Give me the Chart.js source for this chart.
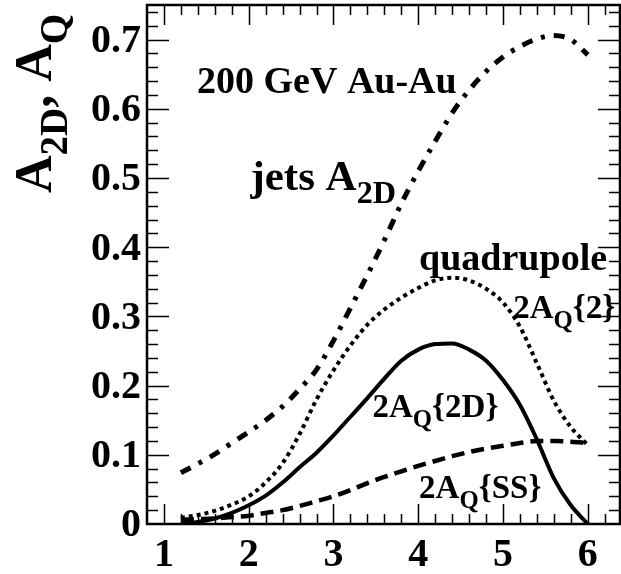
<!DOCTYPE html>
<html>
<head>
<meta charset="utf-8">
<script src="https://cdn.jsdelivr.net/npm/chart.js@4.4.1/dist/chart.umd.min.js"></script>
<style>
html,body{margin:0;padding:0;background:#fff}
#wrap{width:621px;height:574px}
</style>
</head>
<body>
<div id="wrap"><canvas id="chart" width="621" height="574"></canvas></div>
<script>
// x = 1.2 .. 6.0
const xVals=[1.2,1.4,1.6,1.8,2.0,2.2,2.4,2.6,2.8,3.0,3.2,3.4,3.6,3.8,4.0,4.2,4.4,4.6,4.8,5.0,5.2,5.4,5.6,5.8,6.0];
const jetsA2D=[0.074,0.087,0.101,0.117,0.133,0.150,0.170,0.195,0.223,0.265,0.312,0.360,0.410,0.463,0.510,0.553,0.594,0.627,0.654,0.675,0.690,0.701,0.706,0.700,0.678];
const aq2=[0.009,0.013,0.019,0.028,0.040,0.060,0.088,0.130,0.180,0.222,0.258,0.288,0.310,0.327,0.341,0.352,0.356,0.352,0.340,0.320,0.285,0.232,0.178,0.140,0.114];
const aq2D=[0.000,0.003,0.008,0.016,0.027,0.041,0.060,0.082,0.103,0.128,0.155,0.182,0.210,0.236,0.252,0.260,0.261,0.252,0.236,0.208,0.172,0.122,0.066,0.027,0.000];
const aqSS=[0.006,0.007,0.008,0.010,0.012,0.016,0.020,0.026,0.033,0.040,0.049,0.059,0.068,0.076,0.084,0.091,0.098,0.104,0.109,0.113,0.117,0.120,0.120,0.119,0.117];

const xTicks=[1,2,3,4,5,6];
const yTicks=[0,0.1,0.2,0.3,0.4,0.5,0.6,0.7];
const yTickLabels=["0","0.1","0.2","0.3","0.4","0.5","0.6","0.7"];

// text parts: [text, subscript?]
const notes=[
 {x:1.39,y:0.623,size:38,parts:[["200 GeV Au-Au",0]]},
 {x:2.02,y:0.483,size:43,parts:[["jets A",0],["2D",1]]},
 {x:4.01,y:0.367,size:38,parts:[["quadrupole",0]]},
 {x:5.12,y:0.298,size:33,parts:[["2A",0],["Q",1],["{2}",0]]},
 {x:3.46,y:0.155,size:33,parts:[["2A",0],["Q",1],["{2D}",0]]},
 {x:4.01,y:0.038,size:33,parts:[["2A",0],["Q",1],["{SS}",0]]}
];
const yTitle=[["A",0],["2D",1],[", A",0],["Q",1]];

const FONT='"Liberation Serif","Times New Roman",serif';

function rich(ctx,parts,x,y,size){
 let cx=x;
 for(const [t,sub] of parts){
  const s=sub?size*0.75:size;
  ctx.font=`bold ${s}px ${FONT}`;
  ctx.fillText(t,cx,sub?y+size*0.3:y);
  cx+=ctx.measureText(t).width;
 }
}

const frame={
 id:"frame",
 afterDraw(chart){
  const ctx=chart.ctx,a=chart.chartArea,x=chart.scales.x,y=chart.scales.y;
  ctx.save();
  ctx.strokeStyle="#000";ctx.fillStyle="#000";
  // ticks, all four sides, pointing inward
  ctx.lineWidth=1.5;
  ctx.beginPath();
  for(let i=0;i<=30;i++){
   const v=0.8+i*0.2;
   if(v<=x.min+1e-6||v>=x.max) continue;
   const p=Math.round(x.getPixelForValue(v))+0.5;
   const len=Math.abs(v-Math.round(v))<1e-6?20:10;
   ctx.moveTo(p,a.bottom);ctx.lineTo(p,a.bottom-len);
   ctx.moveTo(p,a.top);ctx.lineTo(p,a.top+len);
  }
  for(let i=1;i<=37;i++){
   const v=i*0.02;
   if(v>=y.max) continue;
   const p=Math.round(y.getPixelForValue(v))+0.5;
   const len=i%5==0?22:11;
   ctx.moveTo(a.left,p);ctx.lineTo(a.left+len,p);
   ctx.moveTo(a.right,p);ctx.lineTo(a.right-len,p);
  }
  ctx.stroke();
  ctx.lineWidth=2.5;
  ctx.strokeRect(a.left,a.top,a.right-a.left,a.bottom-a.top);

  // tick labels
  ctx.font=`bold 40px ${FONT}`;
  ctx.textAlign="center";ctx.textBaseline="alphabetic";
  xTicks.forEach(v=>ctx.fillText(String(v),x.getPixelForValue(v),566));
  ctx.textAlign="right";ctx.textBaseline="middle";
  yTicks.forEach((v,i)=>ctx.fillText(yTickLabels[i],141,y.getPixelForValue(v)+2));

  // annotations
  ctx.textAlign="left";ctx.textBaseline="alphabetic";
  notes.forEach(n=>rich(ctx,n.parts,x.getPixelForValue(n.x),y.getPixelForValue(n.y),n.size));

  // y axis title
  ctx.translate(51,193);
  ctx.rotate(-Math.PI/2);
  rich(ctx,yTitle,0,0,52);
  ctx.restore();
 }
};

const pts=arr=>arr.map((v,i)=>({x:xVals[i],y:v}));
const line=(data,dash,w)=>({data:pts(data),borderColor:"#000",borderWidth:w,borderDash:dash,
 pointRadius:0,fill:false,cubicInterpolationMode:"monotone",borderCapStyle:"butt"});

new Chart(document.getElementById("chart"),{
 type:"line",
 data:{datasets:[
  line(jetsA2D,[11,9,4,9],5),
  line(aq2,[4,4],4),
  line(aq2D,[],4),
  line(aqSS,[13,7],4.5)
 ]},
 options:{
  responsive:false,animation:false,
  layout:{padding:{left:147,right:1,top:5,bottom:50}},
  plugins:{legend:{display:false},tooltip:{enabled:false}},
  scales:{
   x:{type:"linear",min:0.8,max:6.38,display:false},
   y:{type:"linear",min:0,max:0.75,display:false}
  }
 },
 plugins:[frame]
});
</script>
</body>
</html>
